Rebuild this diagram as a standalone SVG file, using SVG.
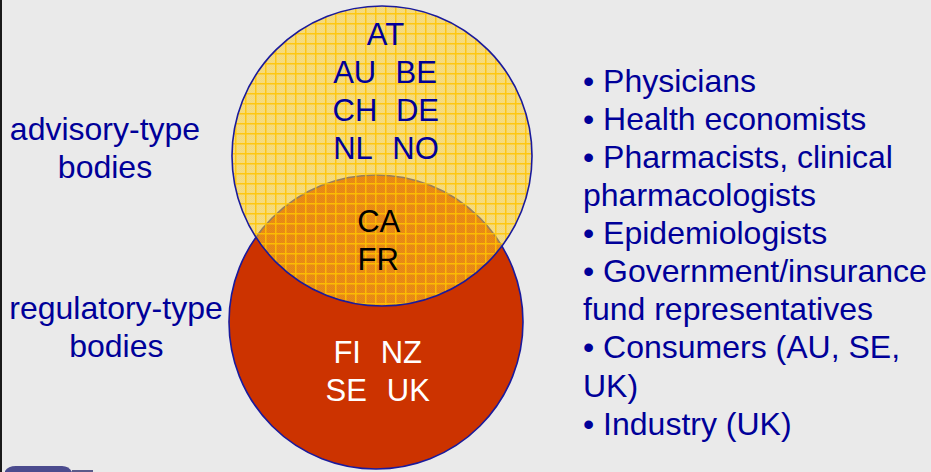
<svg xmlns="http://www.w3.org/2000/svg" width="931" height="472" viewBox="0 0 931 472">
  <style>
    text { font-family: "Liberation Sans", Arial, sans-serif; font-size: 31px; }
    .big text { font-size: 32px; }
    .blue { fill: #000099; }
    .dark { fill: #000000; }
    .white { fill: #ffffff; }
    .mid { text-anchor: middle; }
    .ring { fill: none; stroke: #1a1a9c; stroke-width: 1.6; }
  </style>
  <defs>
    <!-- fine dither inside the yellow circle -->
    <pattern id="dither" patternUnits="userSpaceOnUse" width="2" height="2">
      <rect width="2" height="2" fill="#ffd22c"/>
      <rect width="1" height="1" fill="#fcca20"/>
      <rect x="1" y="1" width="1" height="1" fill="#fcca20"/>
    </pattern>
    <!-- 10px grid lines over the yellow circle -->
    <pattern id="grid" patternUnits="userSpaceOnUse" x="5" y="3" width="10" height="10">
      <rect x="0" y="0" width="1.5" height="10" fill="#ffc400"/>
      <rect x="0" y="0" width="10" height="1.5" fill="#ffc400"/>
    </pattern>
  </defs>

  <!-- slide background -->
  <rect width="931" height="472" fill="#eaeaea"/>
  <rect x="0" y="0" width="2" height="472" fill="#1a1a1a"/>

  <!-- regulatory circle (drawn first, seen through the advisory one) -->
  <g id="regulatory-circle">
    <circle cx="376" cy="322" r="147" fill="#cc3300"/>
    <circle cx="376" cy="322" r="147" class="ring"/>
  </g>

  <!-- advisory circle: translucent yellow with grid -->
  <g id="advisory-circle">
    <circle cx="382" cy="156" r="150" fill="url(#dither)" fill-opacity="0.56"/>
    <circle cx="382" cy="156" r="150" fill="url(#grid)" fill-opacity="0.85"/>
    <circle cx="382" cy="156" r="150" class="ring"/>
  </g>

  <!-- advisory-only members -->
  <g id="advisory-members" class="blue">
    <text class="mid" x="385.5" y="45">AT</text>
    <text class="mid" x="354.7" y="83">AU</text>
    <text class="mid" x="416.3" y="83">BE</text>
    <text class="mid" x="355" y="121">CH</text>
    <text class="mid" x="417.5" y="121">DE</text>
    <text class="mid" x="353" y="159">NL</text>
    <text class="mid" x="415.5" y="159">NO</text>
  </g>

  <!-- members in both -->
  <g id="overlap-members" class="dark">
    <text class="mid" x="378.7" y="232">CA</text>
    <text class="mid" x="378.2" y="270">FR</text>
  </g>

  <!-- regulatory-only members -->
  <g id="regulatory-members" class="white">
    <text class="mid" x="347.2" y="363">FI</text>
    <text class="mid" x="401.3" y="363">NZ</text>
    <text class="mid" x="346.3" y="401">SE</text>
    <text class="mid" x="408.3" y="401">UK</text>
  </g>

  <!-- side labels -->
  <g id="label-advisory" class="blue big">
    <text class="mid" x="105" y="140">advisory-type</text>
    <text class="mid" x="105" y="178">bodies</text>
  </g>
  <g id="label-regulatory" class="blue big">
    <text class="mid" x="116" y="319">regulatory-type</text>
    <text class="mid" x="116.3" y="357">bodies</text>
  </g>

  <!-- membership list -->
  <g id="members-list" class="blue big">
    <text x="583" y="92">• Physicians</text>
    <text x="583" y="130">• Health economists</text>
    <text x="583" y="168">• Pharmacists, clinical</text>
    <text x="583" y="206">pharmacologists</text>
    <text x="583" y="244">• Epidemiologists</text>
    <text x="583" y="282">• Government/insurance</text>
    <text x="583" y="320">fund representatives</text>
    <text x="583" y="358">• Consumers (AU, SE,</text>
    <text x="583" y="397">UK)</text>
    <text x="583" y="435">• Industry (UK)</text>
  </g>

  <!-- footer tab -->
  <g id="footer-tab">
    <path d="M5,472 L5,471 Q8,466 16,466 L62,466 Q69,466 72,472 Z" fill="#4b4b8e"/>
    <rect x="72" y="470" width="21" height="2" fill="#5a5a8a"/>
  </g>
</svg>
